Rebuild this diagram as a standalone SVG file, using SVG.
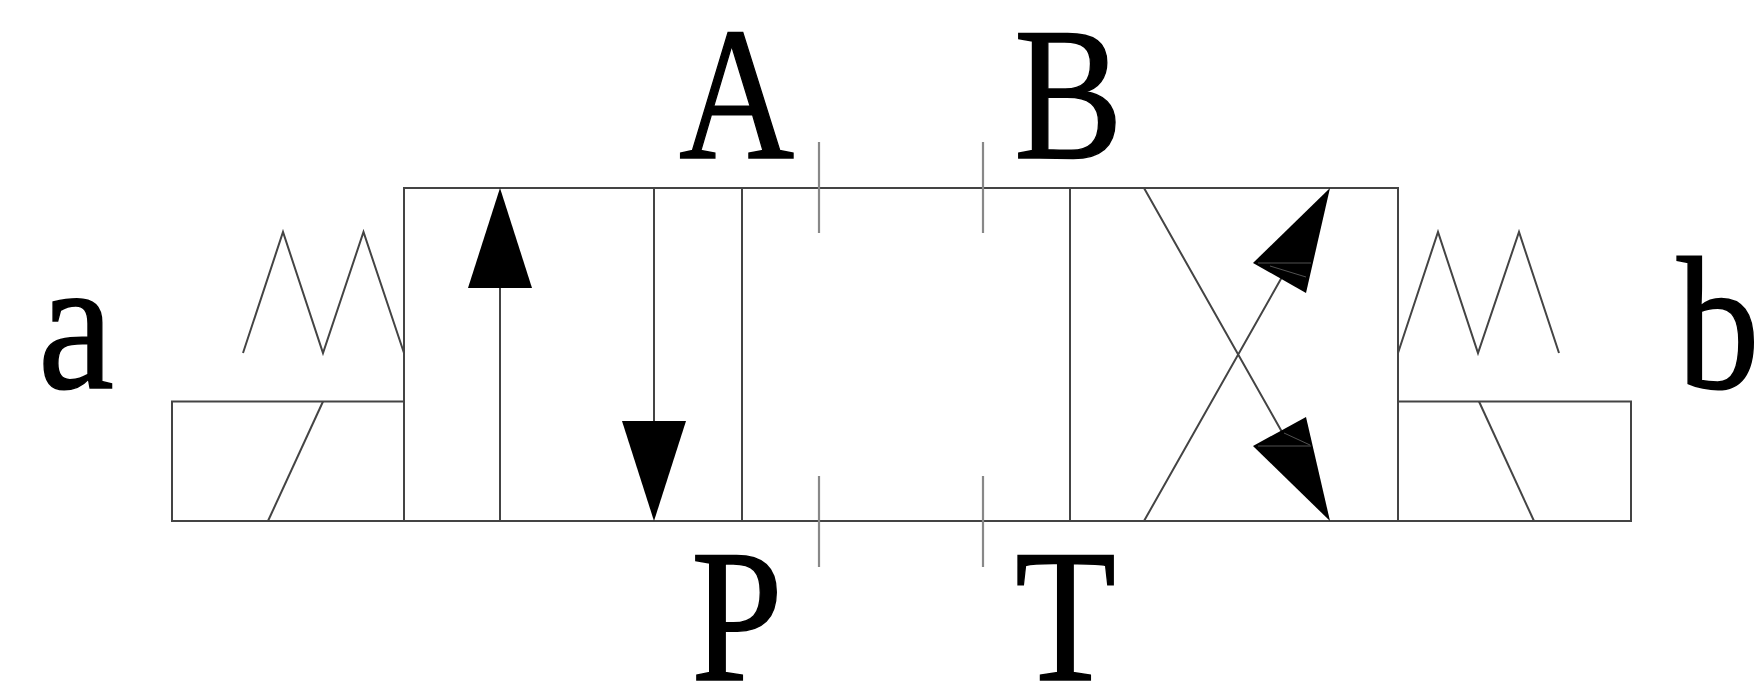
<svg xmlns="http://www.w3.org/2000/svg" width="1762" height="686" viewBox="0 0 1762 686">
<style>
.l{fill:none;stroke:#444;stroke-width:2}
.t{fill:none;stroke:#888;stroke-width:2.200}
.h{fill:#000;stroke:none}
.f{fill:none;stroke:#666;stroke-width:.8}
text{font-family:"Liberation Serif","Times New Roman",serif;font-size:190px;fill:#000;stroke:#000;stroke-width:1.500;text-rendering:geometricPrecision}
</style>
<rect width="1762" height="686" fill="#fff"/>
<g id="valve-body">
<rect class="l" x="404" y="188" width="994" height="333"/>
<path class="l" d="M742 188V521M1070 188V521"/>
</g>
<g id="left-actuator">
<path class="l" d="M404 401.500H172V521H404"/>
<path class="l" d="M268 521L323 401.500"/>
<path class="l" d="M243 353L283 232L323 353L363.500 232L404 353"/>
</g>
<g id="right-actuator">
<path class="l" d="M1398 401.500H1631V521H1398"/>
<path class="l" d="M1479 401.500L1534 521"/>
<path class="l" d="M1398 353L1438 232L1478 353L1519 232L1559 353"/>
</g>
<g id="connectors">
<path class="l" d="M500 288V521M654 188V421"/>
<path class="l" d="M1144 188L1282 432M1144 521L1282 277"/>
<path class="t" d="M819 142V233M983 142V233M819 476V567M983 476V567"/>
</g>
<g id="arrowheads">
<path class="h" d="M500 188L532 288H468Z"/>
<path class="h" d="M654 521L686 421H622Z"/>
<path class="h" d="M1330 188L1253 263L1306 293Z"/>
<path class="h" d="M1330 521L1253 446L1306 417Z"/>
<path class="f" d="M1258 263H1311M1270 266L1306 277M1258 446H1311M1284 433L1310 445"/>
</g>
<g id="port-labels">
<text transform="translate(679 158) scale(.84 1)">A</text>
<text transform="translate(1014 158) scale(.86 1)">B</text>
<text transform="translate(691 680) scale(.87 1)">P</text>
<text transform="translate(1015 680) scale(.87 1)">T</text>
<text transform="translate(38 388) scale(.9 1)">a</text>
<text transform="translate(1677 388) scale(.87 1)">b</text>
</g>
</svg>
